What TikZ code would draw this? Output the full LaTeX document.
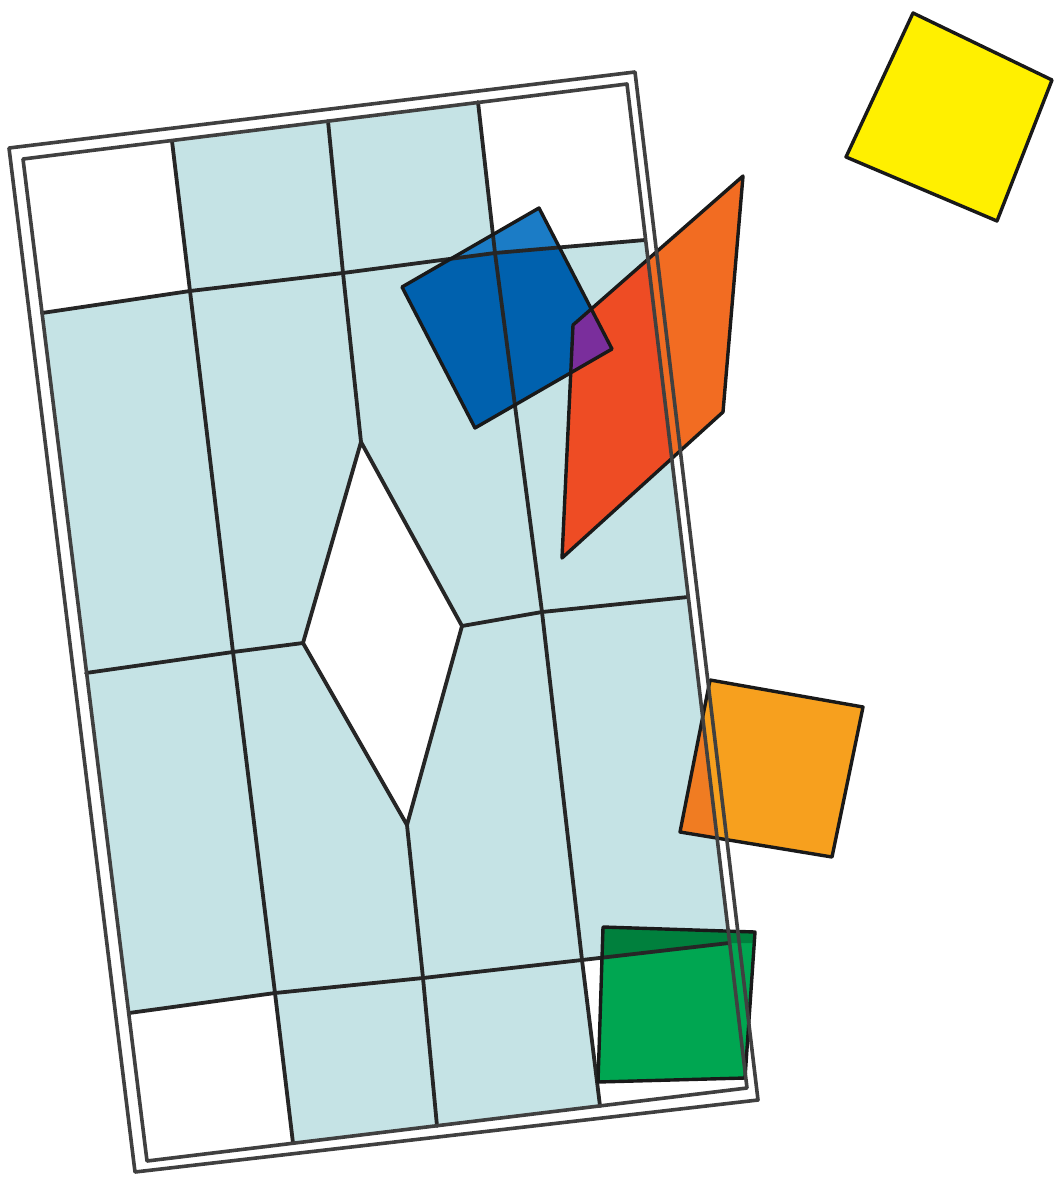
\documentclass[tikz,border=0pt]{standalone}
\usetikzlibrary{calc}
\definecolor{paleblue}{HTML}{C5E3E5}
\definecolor{sqblue}{HTML}{0061AE}
\definecolor{sqbluelt}{HTML}{1B7CC6}
\definecolor{sqpurple}{HTML}{7A2E9C}
\definecolor{sqred}{HTML}{EE4C24}
\definecolor{sqorange}{HTML}{F26C22}
\definecolor{sqamber}{HTML}{F7A01E}
\definecolor{sqamberdk}{HTML}{F07C22}
\definecolor{sqgreen}{HTML}{00A651}
\definecolor{sqgreendk}{HTML}{00803D}
\definecolor{sqyellow}{HTML}{FFF000}
\tikzset{
  gridline/.style={draw=black!85, line width=3.8, line join=round, line cap=round},
  frameline/.style={draw=black!75, line width=3.6, line join=round, line cap=round},
  shapeline/.style={draw=black!90, line width=3.4, line join=round}
}
\begin{document}
\begin{tikzpicture}[x=1pt,y=-1pt]
\useasboundingbox (0,0) rectangle (1056,1177);
% frame corners
\coordinate (O1) at (9,148);   \coordinate (O2) at (635,72);
\coordinate (O3) at (758,1100); \coordinate (O4) at (135,1172);
\coordinate (I1) at (23,159);  \coordinate (I2) at (627,84);
\coordinate (I3) at (747,1088); \coordinate (I4) at (147,1161);
% vertical lines
\coordinate (a0) at (172,141); \coordinate (a1) at (190,291); \coordinate (a2) at (233,652);
\coordinate (a3) at (275,993); \coordinate (a4) at (293,1143);
\coordinate (b0) at (328,121); \coordinate (b1) at (343,273);
\coordinate (dT) at (361,442); \coordinate (dR) at (462,626);
\coordinate (dB) at (407,825); \coordinate (dL) at (303,643);
\coordinate (b3) at (423,978); \coordinate (b4) at (437,1126);
\coordinate (c0) at (478,102); \coordinate (c1) at (495,253); \coordinate (c2) at (542,612);
\coordinate (c3) at (582,960); \coordinate (c4) at (600,1106);
% horizontal ends
\coordinate (h10) at (42,313); \coordinate (h14) at (645,240);
\coordinate (h20) at (86,673); \coordinate (h24) at (688,597);
\coordinate (h30) at (129,1013); \coordinate (h34) at (729,943);
% coloured shapes
\coordinate (B1) at (402,287); \coordinate (B2) at (539,208);
\coordinate (B3) at (612,349); \coordinate (B4) at (475,428);
\coordinate (R1) at (573,325); \coordinate (R2) at (743,176);
\coordinate (R3) at (723,412); \coordinate (R4) at (562,558);
\coordinate (Q1) at (710,680); \coordinate (Q2) at (863,707);
\coordinate (Q3) at (832,857); \coordinate (Q4) at (680,832);
\coordinate (G1) at (603,927); \coordinate (G2) at (755,932);
\coordinate (G3) at (745,1078); \coordinate (G4) at (598,1082);
\coordinate (Y1) at (913,13); \coordinate (Y2) at (1052,80);
\coordinate (Y3) at (997,221); \coordinate (Y4) at (846,157);
% clip helpers
\coordinate (L0) at (0,0); \coordinate (Lt) at (617,0);
\coordinate (Lb) at (758,1177); \coordinate (L1) at (0,1177);

% pale fill of the panel
\fill[paleblue] (I1) -- (I2) -- (I3) -- (I4) -- cycle;
% white cells
\fill[white] (I1) -- (a0) -- (a1) -- (h10) -- cycle;
\fill[white] (c0) -- (I2) -- (h14) -- (c1) -- cycle;
\fill[white] (h30) -- (a3) -- (a4) -- (I4) -- cycle;
\fill[white] (c3) -- (h34) -- (I3) -- (c4) -- cycle;
\fill[white] (dT) -- (dR) -- (dB) -- (dL) -- cycle;

% blue square
\fill[sqblue] (B1) -- (B2) -- (B3) -- (B4) -- cycle;
\begin{scope}
  \clip (L0) -- (1056,0) -- (1056,240) -- (h14) -- (c1) -- (b1) -- (a1) -- (h10) -- (0,313) -- cycle;
  \fill[sqbluelt] (B1) -- (B2) -- (B3) -- (B4) -- cycle;
\end{scope}
% orange parallelogram
\fill[sqorange] (R1) -- (R2) -- (R3) -- (R4) -- cycle;
\begin{scope}
  \clip (L0) -- (Lt) -- (Lb) -- (L1) -- cycle;
  \fill[sqred] (R1) -- (R2) -- (R3) -- (R4) -- cycle;
\end{scope}
\begin{scope}
  \clip (B1) -- (B2) -- (B3) -- (B4) -- cycle;
  \fill[sqpurple] (R1) -- (R2) -- (R3) -- (R4) -- cycle;
\end{scope}
% lower orange square
\fill[sqamber] (Q1) -- (Q2) -- (Q3) -- (Q4) -- cycle;
\begin{scope}
  \clip (L0) -- (Lt) -- (Lb) -- (L1) -- cycle;
  \fill[sqamberdk] (Q1) -- (Q2) -- (Q3) -- (Q4) -- cycle;
\end{scope}
% green square
\fill[sqgreen] (G1) -- (G2) -- (G3) -- (G4) -- cycle;
\begin{scope}
  \clip (0,900) -- (1056,900) -- (1056,943) -- (h34) -- (c3) -- (0,965) -- cycle;
  \fill[sqgreendk] (G1) -- (G2) -- (G3) -- (G4) -- cycle;
\end{scope}
% yellow square
\filldraw[sqyellow, shapeline] (Y1) -- (Y2) -- (Y3) -- (Y4) -- cycle;

% grid lines
\draw[gridline] (a0) -- (a1) -- (a2) -- (a3) -- (a4);
\draw[gridline] (b0) -- (b1) -- (dT);
\draw[gridline] (dB) -- (b3) -- (b4);
\draw[gridline] (c0) -- (c1) -- (c2) -- (c3) -- (c4);
\draw[gridline] (h10) -- (a1) -- (b1) -- (c1) -- (h14);
\draw[gridline] (h20) -- (a2) -- (dL);
\draw[gridline] (dR) -- (c2) -- (h24);
\draw[gridline] (h30) -- (a3) -- (b3) -- (c3) -- (h34);
\draw[gridline] (dT) -- (dR) -- (dB) -- (dL) -- cycle;

% outlines of coloured shapes
\draw[shapeline] (B1) -- (B2) -- (B3) -- (B4) -- cycle;
\draw[shapeline] (R1) -- (R2) -- (R3) -- (R4) -- cycle;
\draw[shapeline] (Q1) -- (Q2) -- (Q3) -- (Q4) -- cycle;
\draw[shapeline] (G1) -- (G2) -- (G3) -- (G4) -- cycle;

% double frame
\draw[frameline] (O1) -- (O2) -- (O3) -- (O4) -- cycle;
\draw[frameline] (I1) -- (I2) -- (I3) -- (I4) -- cycle;
\end{tikzpicture}
\end{document}
